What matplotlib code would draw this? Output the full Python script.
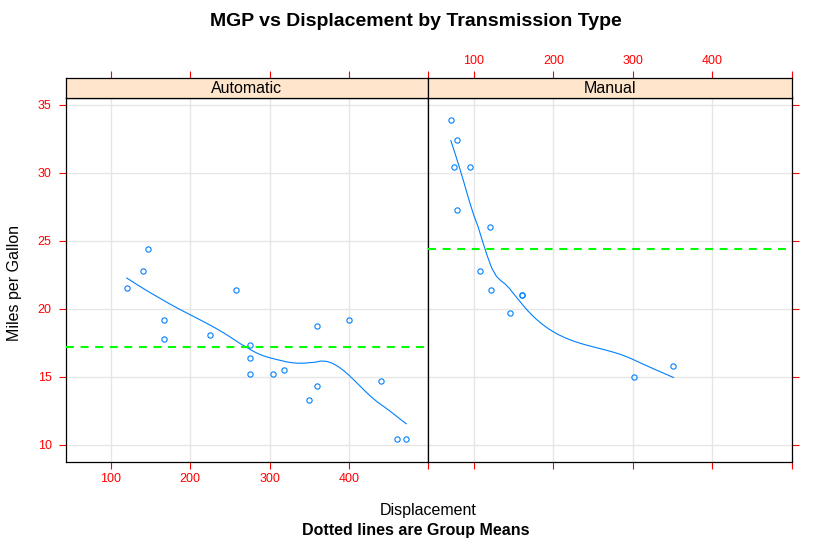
import numpy as np
import matplotlib
matplotlib.use("Agg")
import matplotlib.pyplot as plt

plt.rcParams['font.family'] = ['Liberation Sans', 'DejaVu Sans']

# mtcars data
auto_disp = [258, 360, 225, 360, 146.7, 140.8, 167.6, 167.6, 275.8, 275.8, 275.8,
             472, 460, 440, 120.1, 318, 304, 350, 400]
auto_mpg = [21.4, 18.7, 18.1, 14.3, 24.4, 22.8, 19.2, 17.8, 16.4, 17.3, 15.2,
            10.4, 10.4, 14.7, 21.5, 15.5, 15.2, 13.3, 19.2]
man_disp = [160, 160, 108, 78.7, 75.7, 71.1, 79, 120.3, 95.1, 351, 145, 301, 121]
man_mpg = [21.0, 21.0, 22.8, 32.4, 30.4, 33.9, 27.3, 26.0, 30.4, 15.8, 19.7, 15.0, 21.4]
panels = ["Automatic", "Manual"]
x_ticks = [100, 200, 300, 400, 500]
x_ticklabels = ["100", "200", "300", "400", ""]
y_ticks = [10, 15, 20, 25, 30, 35]

BLUE = "#0080ff"
RED = "#ff0000"


def local_fit(x, y, rw, x0, q):
    d = np.abs(x - x0)
    h = np.sort(d)[q - 1]
    h = max(h, 1e-12)
    u = np.clip(d / h, 0, 1)
    w = (1 - u**3)**3 * rw
    W = np.sum(w)
    xm = np.sum(w * x) / W
    ym = np.sum(w * y) / W
    sxx = np.sum(w * (x - xm)**2)
    b = np.sum(w * (x - xm) * (y - ym)) / sxx if sxx > 0 else 0.0
    return ym + b * (x0 - xm), b


def build_vertices(x, span, cell=0.2):
    n = len(x)
    fc = int(np.floor(n * span * cell))
    xs = np.sort(x)
    rng = xs[-1] - xs[0]
    mu = 0.005 * max(rng, 1e-10)
    lo, hi = xs[0] - mu, xs[-1] + mu
    verts = {lo, hi}

    def split(l, u, a, b):  # indices inclusive into xs, cell bounds a,b
        if u - l + 1 <= fc:
            return
        m = (l + u) // 2
        off_seq = [0]
        k = 1
        while len(off_seq) < 2 * n:
            off_seq += [k, -k]
            k += 1
        found = None
        for off in off_seq:
            mm = m + off
            if mm < l or mm >= u:
                continue
            if xs[mm] != xs[mm + 1]:
                found = mm
                break
        if found is None:
            return
        m = found
        v = xs[m]
        if v == a or v == b:
            return
        verts.add(v)
        split(l, m, a, v)
        split(m + 1, u, v, b)

    split(0, n - 1, lo, hi)
    return np.array(sorted(verts))


def loess_curve(x, y, xe, span=2/3, iterations=4):
    x = np.asarray(x, float); y = np.asarray(y, float)
    n = len(x)
    q = int(np.floor(n * span))
    verts = build_vertices(x, span)
    rw = np.ones(n)

    def surface(pts, rw):
        vals = np.array([local_fit(x, y, rw, v, q) for v in verts])
        g, gd = vals[:, 0], vals[:, 1]
        out = []
        for p in pts:
            j = np.searchsorted(verts, p, side="right") - 1
            j = min(max(j, 0), len(verts) - 2)
            h = verts[j + 1] - verts[j]
            t = (p - verts[j]) / h
            phi0 = (1 - t)**2 * (1 + 2 * t)
            phi1 = t**2 * (3 - 2 * t)
            psi0 = t * (1 - t)**2
            psi1 = -t**2 * (1 - t)
            out.append(phi0 * g[j] + phi1 * g[j + 1] + (psi0 * gd[j] + psi1 * gd[j + 1]) * h)
        return np.array(out)

    for it in range(iterations - 1):
        fitted = surface(x, rw)
        res = y - fitted
        s = 6 * np.median(np.abs(res))
        if s <= 0:
            break
        r = np.abs(res) / s
        rw = np.where(r < 1, (1 - r**2)**2, 0.0)
    return surface(xe, rw)


fig = plt.figure(figsize=(8.31, 5.51), dpi=100)
W, H = 831, 551

def fx(px):
    return px / W

def fy(py):
    return 1 - py / H

xl, xm, xr = 65.5, 428.5, 792.0
yt_strip, yt, yb = 78.0, 97.5, 461.5

all_x = auto_disp + man_disp
all_y = auto_mpg + man_mpg
xr_ = max(all_x) - min(all_x)
yr_ = max(all_y) - min(all_y)
xlim = (min(all_x) - 0.07 * xr_, max(all_x) + 0.07 * xr_)
ylim = (min(all_y) - 0.07 * yr_, max(all_y) + 0.07 * yr_)

data = [(auto_disp, auto_mpg), (man_disp, man_mpg)]
lefts = [xl, xm]
rights = [xm, xr]
TICKFS = 9
for i in range(2):
    ax = fig.add_axes([fx(lefts[i]), fy(yb), fx(rights[i] - lefts[i]), (yb - yt) / H])
    sax = fig.add_axes([fx(lefts[i]), fy(yt), fx(rights[i] - lefts[i]), (yt - yt_strip) / H])
    xd, yd = data[i]
    ax.set_xlim(xlim); ax.set_ylim(ylim)
    for t in x_ticks:
        ax.axvline(t, color="#e6e6e6", lw=1.0, zorder=0)
    for t in y_ticks:
        ax.axhline(t, color="#e6e6e6", lw=1.0, zorder=0)
    ax.plot(xd, yd, linestyle="none", marker="o", markersize=3.8, mfc="none",
            mec=BLUE, mew=0.8, zorder=3)
    xe = np.linspace(min(xd), max(xd), 50)
    ye = loess_curve(xd, yd, xe)
    ax.plot(xe, ye, color=BLUE, lw=0.8, zorder=3)
    ax.axhline(np.mean(yd), color="#00ff00", lw=1.5, linestyle=(0, (3.8, 3.2)), zorder=4)

    ax.set_xticks(x_ticks)
    ax.set_yticks(y_ticks)
    ax.tick_params(axis="both", direction="out", length=5, width=0.8, color=RED,
                   labelcolor=RED, labelsize=TICKFS)
    ax.tick_params(axis="y", pad=5)
    ax.tick_params(axis="x", pad=3)
    ax.set_xticklabels(x_ticklabels)
    if i == 0:
        ax.tick_params(axis="x", bottom=True, top=False, labelbottom=True, labeltop=False)
        ax.tick_params(axis="y", left=True, right=False, labelleft=True, labelright=False)
        ax.set_yticklabels([str(t) for t in y_ticks])
    else:
        ax.tick_params(axis="x", bottom=True, top=False, labelbottom=False, labeltop=False)
        ax.tick_params(axis="y", left=False, right=True, labelleft=False, labelright=False)
    for sp in ax.spines.values():
        sp.set_linewidth(0.9)

    sax.set_facecolor("#ffe5cc")
    sax.set_yticks([])
    for sp in sax.spines.values():
        sp.set_linewidth(0.9)
    sax.text(0.5, 0.45, panels[i], ha="center", va="center", fontsize=11.5,
             transform=sax.transAxes)

    # top ticks above strip
    sax.set_xlim(xlim)
    sax.set_xticks(x_ticks)
    sax.set_xticklabels(x_ticklabels if i == 1 else [""] * len(x_ticks))
    sax.tick_params(axis="x", bottom=False, top=True, labelbottom=False,
                    labeltop=(i == 1), direction="out", length=5, width=0.8,
                    color=RED, labelcolor=RED, labelsize=TICKFS, pad=3)

fig.text(0.5, fy(22), "MGP vs Displacement by Transmission Type", ha="center",
         va="center", fontsize=14, fontweight="bold")
fig.text(fx(xm), fy(511), "Displacement", ha="center", va="center", fontsize=11.5)
fig.text(0.5, fy(531), "Dotted lines are Group Means", ha="center", va="center",
         fontsize=11.5, fontweight="bold")
fig.text(fx(15), fy(283), "Miles per Gallon", ha="center", va="center", fontsize=11.5,
         rotation=90)

fig.savefig("out.png", dpi=100)
